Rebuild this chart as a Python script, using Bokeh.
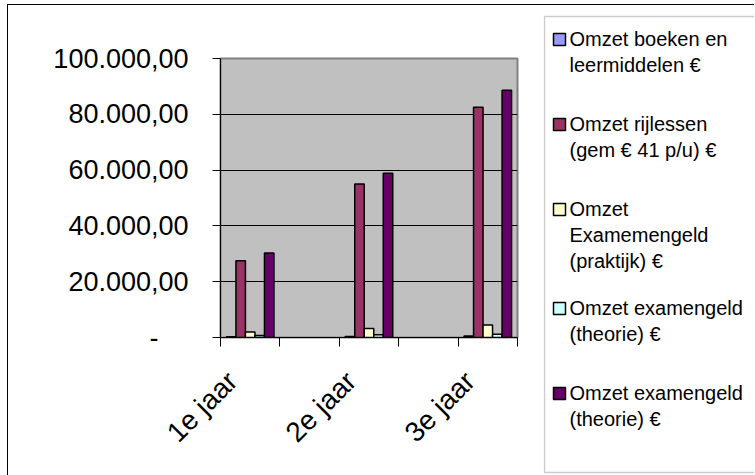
import math
from bokeh.plotting import figure
from bokeh.layouts import row
from bokeh.models import Range1d, FixedTicker, BoxAnnotation
from bokeh.core.properties import value
from bokeh.embed import file_html
from bokeh.resources import INLINE

# ---- data ----
slots = ["1e jaar", "", "2e jaar", "", "3e jaar"]
categories = ["1e jaar", "2e jaar", "3e jaar"]
series_labels = [
    "Omzet boeken en\nleermiddelen €",
    "Omzet rijlessen\n(gem € 41 p/u) €",
    "Omzet\nExamemengeld\n(praktijk) €",
    "Omzet examengeld\n(theorie) €",
    "Omzet examengeld\n(theorie) €",
]
boeken = [300, 400, 500]
rijlessen = [27500, 55000, 82500]
praktijk = [2000, 3200, 4500]
theorie = [700, 1000, 1200]
theorie_2 = [30300, 58900, 88600]
series_values = [boeken, rijlessen, praktijk, theorie, theorie_2]
colors = ["#9999FF", "#993366", "#FFFFCC", "#CCFFFF", "#660066"]
y_ticks = [0, 20000, 40000, 60000, 80000, 100000]
y_tick_labels = ["-\u2007\u2007", "20.000,00", "40.000,00", "60.000,00", "80.000,00", "100.000,00"]

FONT = "Liberation Sans"
BAR_W = 0.16
LABEL_SHIFT = 0.3
H = 471

# ---------------- chart ----------------
p = figure(width=536, height=H, output_backend="svg", toolbar_location=None,
           x_range=Range1d(0, len(slots)), y_range=Range1d(0, 100000),
           min_border_left=212, min_border_top=53, min_border_bottom=139, min_border_right=27,
           background_fill_color="#C0C0C0", border_fill_color="white")
p.frame_align = False
p.styles = {"border-top": "1px solid black", "border-left": "1px solid black"}
p.outline_line_color = "#808080"
p.outline_line_width = 2

n = len(series_values)
for i, (vals, col) in enumerate(zip(series_values, colors)):
    xs = [slots.index(c) + 0.5 + (i - (n - 1) / 2) * BAR_W for c in categories]
    p.vbar(x=xs, top=vals, bottom=0, width=BAR_W, fill_color=col,
           line_color="black", line_width=1.5)

# y axis
p.yaxis.ticker = FixedTicker(ticks=y_ticks)
p.yaxis.major_label_overrides = {t: l for t, l in zip(y_ticks, y_tick_labels)}
p.yaxis.major_label_text_font = FONT
p.yaxis.major_label_text_font_size = "27px"
p.yaxis.major_label_text_color = "black"
p.yaxis.major_tick_out = 8
p.yaxis.major_tick_in = 0
p.yaxis.minor_tick_out = 0
p.yaxis.minor_tick_in = 0
p.yaxis.major_label_standoff = 24
p.yaxis.axis_line_color = "black"
p.yaxis.major_tick_line_color = "black"

# x axis: labels near category centers, tick marks at boundaries
label_pos = [slots.index(c) + 0.5 - LABEL_SHIFT for c in categories]
p.xaxis.ticker = FixedTicker(ticks=label_pos, minor_ticks=list(range(len(slots) + 1)))
p.xaxis.major_label_overrides = {t: c for t, c in zip(label_pos, categories)}
p.xaxis.major_label_orientation = math.pi / 4
p.xaxis.major_label_text_font = FONT
p.xaxis.major_label_text_font_size = "28px"
p.xaxis.major_label_text_color = "black"
p.xaxis.major_tick_out = 0
p.xaxis.major_tick_in = 0
p.xaxis.minor_tick_out = 9
p.xaxis.minor_tick_in = 0
p.xaxis.minor_tick_line_color = "black"
p.xaxis.axis_line_color = "black"
p.xaxis.major_label_standoff = 30

p.xgrid.visible = False
p.ygrid.ticker = FixedTicker(ticks=y_ticks)
p.ygrid.grid_line_color = "black"
p.ygrid.grid_line_width = 1

# ---------------- legend panel (pixel coordinates, y downward) ----------------
LW = 211
leg = figure(width=LW, height=H, output_backend="svg", toolbar_location=None,
             x_range=Range1d(0, LW), y_range=Range1d(H, 0),
             min_border_left=0, min_border_right=0, min_border_top=0, min_border_bottom=0,
             background_fill_color="white", border_fill_color="white")
leg.frame_align = False
leg.styles = {"border-top": "1px solid black"}
leg.axis.visible = False
leg.grid.visible = False
leg.outline_line_color = None

BOX_TOP, BOX_BOTTOM = 11, 467
leg.add_layout(BoxAnnotation(left=1, right=LW + 50, top=BOX_TOP, bottom=BOX_BOTTOM,
                             fill_color="white", fill_alpha=0, level="underlay",
                             line_color="#555555", line_width=1.5))

LINE_H = 24
GAP = 27
ITEM_MIN = 85
centers = []
y = 34
for lab in series_labels:
    centers.append(y)
    y += max(ITEM_MIN, (lab.count("\n") + 1) * LINE_H + GAP)

leg.scatter(x=[16] * len(colors), y=centers, marker="square", size=12,
            fill_color=colors, line_color="black", line_width=1.5)
leg.text(x=[26] * len(series_labels), y=[c - LINE_H / 2 for c in centers], text=series_labels,
         text_font=value(FONT), text_font_size="20px", text_baseline="top",
         text_align="left", text_color="black", text_line_height=1.2)

layout = row(p, leg, margin=(4, 0, 0, 7), spacing=0)

open("out.html", "w").write(file_html(layout, INLINE))
